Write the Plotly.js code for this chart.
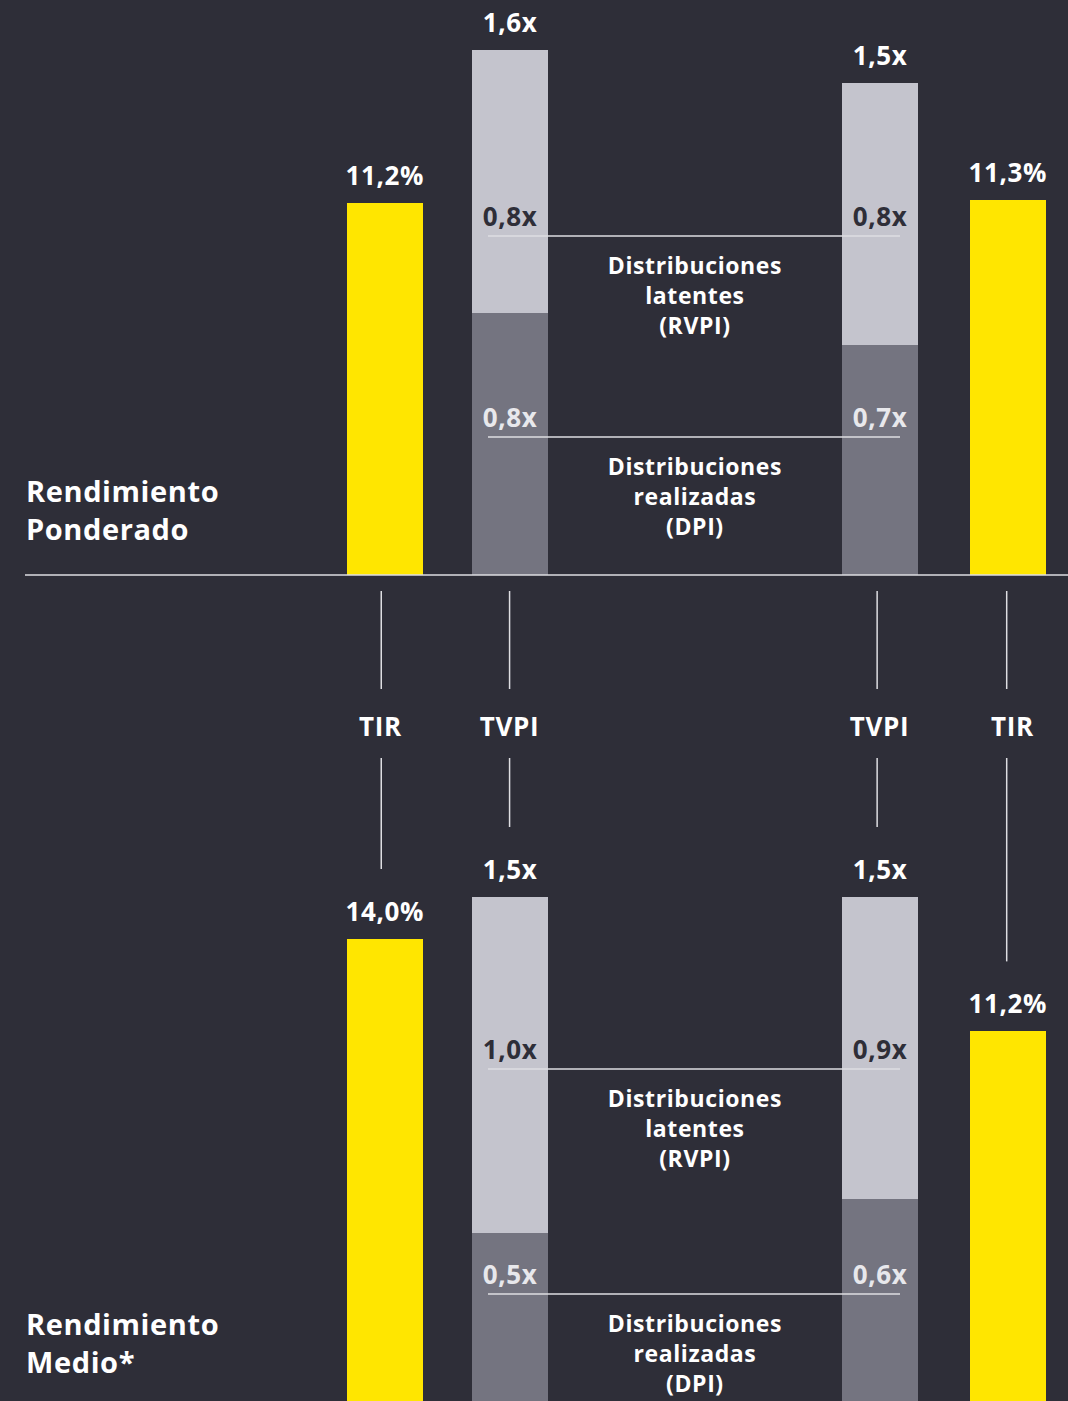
<!DOCTYPE html>
<html>
<head>
<meta charset="utf-8">
<script src="https://cdn.plot.ly/plotly-3.0.1.min.js"></script>
<style>
  html, body { margin: 0; padding: 0; background: #2e2e38; }
  #chart { width: 1068px; height: 1401px; }
  #chart .annotation-text { letter-spacing: 0.6px; }
</style>
</head>
<body>
<div id="chart"></div>
<script>
// ---- Data ----
const panelTitles = ['Rendimiento<br>Ponderado', 'Rendimiento<br>Medio*'];
const columnLabels = ['TIR', 'TVPI', 'TVPI', 'TIR'];
const segmentNames = ['Distribuciones<br>latentes<br>(RVPI)', 'Distribuciones<br>realizadas<br>(DPI)'];

// Rendimiento Ponderado (left pair, right pair)
const tirPonderado = [11.2, 11.3];   // %
const dpiPonderado = [0.8, 0.7];     // x
const rvpiPonderado = [0.8, 0.8];    // x

// Rendimiento Medio*
const tirMedio = [14.0, 11.2];       // %
const dpiMedio = [0.5, 0.6];         // x
const rvpiMedio = [1.0, 0.9];        // x

// ---- Layout constants ----
const W = 1068, H = 1401;
const C = {
  bg: '#2e2e38', yellow: '#ffe600', light: '#c4c4cd', dark: '#747480',
  white: '#ffffff', line: '#dedee2', darkText: '#2e2e38', lightText: '#e8e8ec'
};
const FONT = '"Open Sans", Roboto, "DejaVu Sans", sans-serif';

// column slots: TIR left, TVPI left, TVPI right, TIR right
const slotTIR = [0, 5];
const slotTVPI = [1, 3.97];
const slotMid = 2.49;
const barWidth = 0.61;
const xRange = [-3.09, 5.482];
// connector lines / column labels sit slightly off some bar centres
const connectorShift = [-0.03, 0.0, -0.02, -0.01];
const labelShift = [-0.03, 0.0, 0.0, 0.04];

// vertical scales (pixels per unit) for each panel
const scaleTop = { pct: 33.2, x: 328 };
const scaleBot = { pct: 33.0, x: 336 };

const topBasePx = 575, topTopPx = 0;
const botBasePx = 1401, botTopPx = 860;
const pY = px => (H - px) / H;          // pixel row -> paper y
const slotX = px => xRange[0] + px / W * (xRange[1] - xRange[0]);

const topDomain = [pY(topBasePx), pY(topTopPx)];
const botDomain = [pY(botBasePx), pY(botTopPx)];
const topH = topBasePx - topTopPx, botH = botBasePx - botTopPx;

const fmt = (v, d) => v.toFixed(d).replace('.', ',');
const sum = (a, b) => a.map((v, i) => v + b[i]);

const panels = [
  { x: 'x', yT: 'y', yV: 'y2', tir: tirPonderado, dpi: dpiPonderado, rvpi: rvpiPonderado },
  { x: 'x2', yT: 'y3', yV: 'y4', tir: tirMedio, dpi: dpiMedio, rvpi: rvpiMedio }
];

const traces = [];
const annotations = [];
const shapes = [];

const valueFont = { family: FONT, size: 26, color: C.white, weight: 700 };

panels.forEach(p => {
  traces.push({
    type: 'bar', x: slotTIR, y: p.tir, xaxis: p.x, yaxis: p.yT,
    width: barWidth, marker: { color: C.yellow, line: { width: 0 } }, hoverinfo: 'skip'
  });
  traces.push({
    type: 'bar', x: slotTVPI, y: p.dpi, xaxis: p.x, yaxis: p.yV,
    width: barWidth, marker: { color: C.dark, line: { width: 0 } }, hoverinfo: 'skip'
  });
  traces.push({
    type: 'bar', x: slotTVPI, y: p.rvpi, xaxis: p.x, yaxis: p.yV,
    width: barWidth, marker: { color: C.light, line: { width: 0 } }, hoverinfo: 'skip'
  });

  // value labels above the bars
  p.tir.forEach((v, i) => annotations.push({
    x: slotTIR[i], y: v, xref: p.x, yref: p.yT, text: fmt(v, 1) + '%',
    showarrow: false, yanchor: 'middle', yshift: 28, borderpad: 0, font: valueFont
  }));
  sum(p.dpi, p.rvpi).forEach((v, i) => annotations.push({
    x: slotTVPI[i], y: v, xref: p.x, yref: p.yV, text: fmt(v, 1) + 'x',
    showarrow: false, yanchor: 'middle', yshift: 28, borderpad: 0, font: valueFont
  }));
});

// segment labels, rule lines and segment names (fixed rows)
const segRows = [
  { panel: panels[0], rvpiPx: 236, dpiPx: 437 },
  { panel: panels[1], rvpiPx: 1069, dpiPx: 1294 }
];
segRows.forEach(r => {
  [['rvpi', r.rvpiPx, C.darkText, segmentNames[0]], ['dpi', r.dpiPx, C.lightText, segmentNames[1]]]
    .forEach(([key, px, col, name]) => {
      r.panel[key].forEach((v, i) => annotations.push({
        x: slotTVPI[i], y: pY(px - 20), xref: 'x', yref: 'paper', text: fmt(v, 1) + 'x',
        showarrow: false, yanchor: 'middle',
        font: { family: FONT, size: 26, color: col, weight: 700 }
      }));
      shapes.push({
        type: 'line', xref: 'x', yref: 'paper',
        x0: slotX(488), x1: slotX(900), y0: pY(px), y1: pY(px),
        line: { color: C.line, width: 1.5 }, layer: 'above'
      });
      annotations.push({
        x: slotMid, y: pY(px + 59), xref: 'x', yref: 'paper', text: name,
        showarrow: false, yanchor: 'middle', align: 'center',
        font: { family: FONT, size: 23, color: C.white, weight: 700 }
      });
    });
});

// panel titles
[[panelTitles[0], 510], [panelTitles[1], 1342]].forEach(([t, px]) => annotations.push({
  x: 24 / W, y: pY(px), xref: 'paper', yref: 'paper', text: t,
  showarrow: false, xanchor: 'left', yanchor: 'middle', align: 'left',
  font: { family: FONT, size: 29, color: C.white, weight: 700 }
}));

// baseline of the upper panel
shapes.push({
  type: 'line', xref: 'paper', yref: 'paper', x0: 25 / W, x1: 1,
  y0: pY(topBasePx), y1: pY(topBasePx), line: { color: C.line, width: 1.5 }
});

// column labels and connector lines between the panels
const totMedio = sum(dpiMedio, rvpiMedio);
const cols = [
  { slot: slotTIR[0], label: columnLabels[0], v: tirMedio[0], px1: scaleBot.pct },
  { slot: slotTVPI[0], label: columnLabels[1], v: totMedio[0], px1: scaleBot.x },
  { slot: slotTVPI[1], label: columnLabels[2], v: totMedio[1], px1: scaleBot.x },
  { slot: slotTIR[1], label: columnLabels[3], v: tirMedio[1], px1: scaleBot.pct }
];
cols.forEach((c, i) => {
  annotations.push({
    x: c.slot + labelShift[i], y: pY(726), xref: 'x', yref: 'paper', text: c.label,
    showarrow: false, yanchor: 'middle',
    font: { family: FONT, size: 26, color: C.white, weight: 700 }
  });
  const cx = c.slot + connectorShift[i];
  shapes.push({
    type: 'line', xref: 'x', yref: 'paper', x0: cx, x1: cx,
    y0: pY(591), y1: pY(689), line: { color: C.line, width: 1.5 }
  });
  // lower connector stops just above the value label of the lower bar
  const barTopPx = botBasePx - c.v * c.px1;
  shapes.push({
    type: 'line', xref: 'x', yref: 'paper', x0: cx, x1: cx,
    y0: pY(758), y1: pY(barTopPx - 70), line: { color: C.line, width: 1.5 }
  });
});

const hidden = { visible: false, showgrid: false, zeroline: false, fixedrange: true };
const layout = {
  width: W, height: H,
  margin: { l: 0, r: 0, t: 0, b: 0, pad: 0 },
  paper_bgcolor: C.bg, plot_bgcolor: C.bg,
  barmode: 'stack', bargap: 0, showlegend: false,
  font: { family: FONT, color: C.white },
  xaxis: Object.assign({ domain: [0, 1], range: xRange, anchor: 'y' }, hidden),
  xaxis2: Object.assign({ domain: [0, 1], range: xRange, anchor: 'y3', matches: 'x' }, hidden),
  yaxis: Object.assign({ domain: topDomain, range: [0, topH / scaleTop.pct], anchor: 'x' }, hidden),
  yaxis2: Object.assign({ domain: topDomain, range: [0, topH / scaleTop.x], overlaying: 'y', anchor: 'x' }, hidden),
  yaxis3: Object.assign({ domain: botDomain, range: [0, botH / scaleBot.pct], anchor: 'x2' }, hidden),
  yaxis4: Object.assign({ domain: botDomain, range: [0, botH / scaleBot.x], overlaying: 'y3', anchor: 'x2' }, hidden),
  annotations: annotations,
  shapes: shapes
};

Plotly.newPlot('chart', traces, layout, { staticPlot: true, displayModeBar: false });
</script>
</body>
</html>
